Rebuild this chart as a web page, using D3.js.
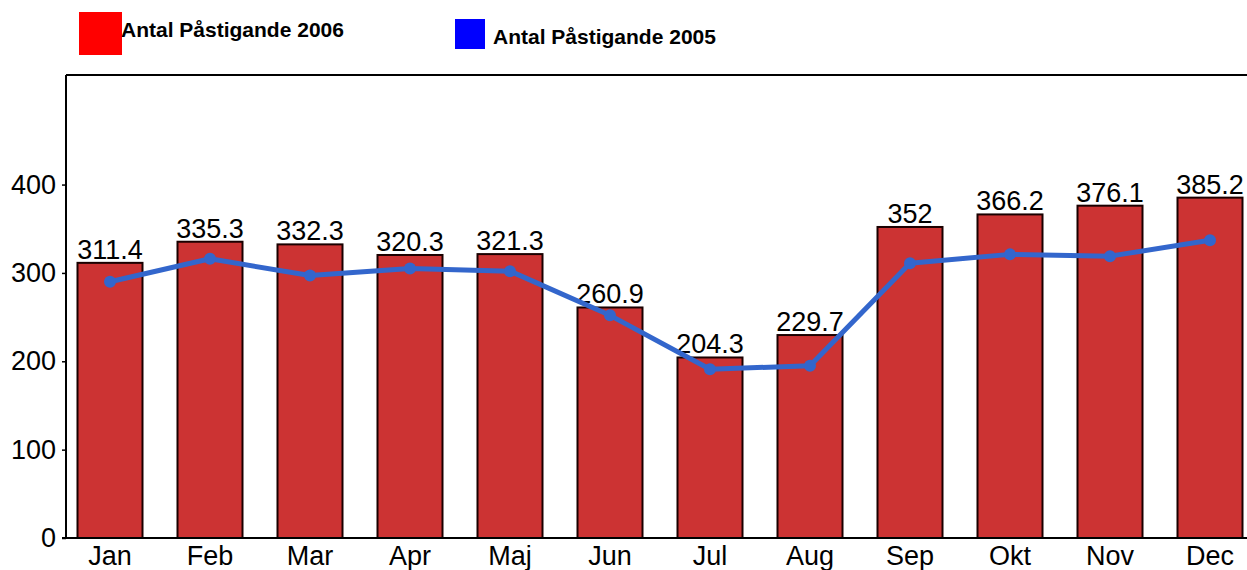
<!DOCTYPE html>
<html>
<head>
<meta charset="utf-8">
<script src="https://cdn.jsdelivr.net/npm/d3@7"></script>
<style>
  body { margin: 0; background: #fff; }
  svg { display: block; font-family: "Liberation Sans", Arial, sans-serif; }
</style>
</head>
<body>
<svg id="chart" width="1247" height="570"></svg>
<script>
// data
let months = ["Jan", "Feb", "Mar", "Apr", "Maj", "Jun", "Jul", "Aug", "Sep", "Okt", "Nov", "Dec"];
let values2006 = [311.4, 335.3, 332.3, 320.3, 321.3, 260.9, 204.3, 229.7, 352, 366.2, 376.1, 385.2];
let values2005 = [290, 316, 297, 305, 302, 252, 191, 195, 311, 321, 319, 337];
let yTicks = [0, 100, 200, 300, 400];

let svg = d3.select("#chart");
let fontSize = 27;

// scales
let xScale = d3.scaleBand()
  .domain(months)
  .range([60, 1260])
  .paddingInner(0.35)
  .paddingOuter(0.175);
let yScale = d3.scaleLinear()
  .domain([0, 524])
  .range([538, 75]);

// frame: top line
svg.append("line")
  .attr("x1", 66).attr("x2", 1247)
  .attr("y1", yScale(524)).attr("y2", yScale(524))
  .attr("stroke", "#000").attr("stroke-width", 2);

// bars
svg.append("g").selectAll("rect")
  .data(values2006)
  .join("rect")
  .attr("x", (d, i) => xScale(months[i]))
  .attr("y", d => yScale(d))
  .attr("width", xScale.bandwidth())
  .attr("height", d => yScale(0) - yScale(d))
  .attr("fill", "#cc3333")
  .attr("stroke", "#1a0000")
  .attr("stroke-width", 2);

// bar value labels
svg.append("g").selectAll("text")
  .data(values2006)
  .join("text")
  .attr("x", (d, i) => xScale(months[i]) + xScale.bandwidth() / 2)
  .attr("y", d => yScale(d) - 4)
  .attr("text-anchor", "middle")
  .attr("font-size", fontSize)
  .attr("fill", "#000")
  .text(d => d);

// y axis
let yAxis = d3.axisLeft(yScale).tickValues(yTicks).tickSize(4).tickPadding(6);
let gy = svg.append("g").attr("transform", "translate(66,0)").call(yAxis);
gy.select(".domain").remove();
gy.selectAll("line").attr("stroke", "#000").attr("stroke-width", 1.5);
gy.selectAll("text").attr("font-size", fontSize).attr("fill", "#000")
  .attr("font-family", "Liberation Sans, Arial, sans-serif");
svg.append("line")
  .attr("x1", 66).attr("x2", 66)
  .attr("y1", yScale(524)).attr("y2", yScale(0))
  .attr("stroke", "#000").attr("stroke-width", 2);

// x axis
let xAxis = d3.axisBottom(xScale).tickSize(0).tickPadding(8);
let gx = svg.append("g").attr("transform", "translate(0," + yScale(0) + ")").call(xAxis);
gx.select(".domain").remove();
gx.selectAll("text").attr("font-size", fontSize).attr("fill", "#000")
  .attr("font-family", "Liberation Sans, Arial, sans-serif");
svg.append("line")
  .attr("x1", 62).attr("x2", 1247)
  .attr("y1", yScale(0)).attr("y2", yScale(0))
  .attr("stroke", "#000").attr("stroke-width", 2);

// line 2005
let lineGen = d3.line()
  .x((d, i) => xScale(months[i]) + xScale.bandwidth() / 2)
  .y(d => yScale(d));
svg.append("path")
  .datum(values2005)
  .attr("d", lineGen)
  .attr("fill", "none")
  .attr("stroke", "#3366cc")
  .attr("stroke-width", 5)
  .attr("stroke-linejoin", "round");
svg.append("g").selectAll("circle")
  .data(values2005)
  .join("circle")
  .attr("cx", (d, i) => xScale(months[i]) + xScale.bandwidth() / 2)
  .attr("cy", d => yScale(d))
  .attr("r", 6)
  .attr("fill", "#3366cc");

// legend
let legend = svg.append("g").attr("font-weight", "bold").attr("font-size", 21);
legend.append("rect").attr("x", 79).attr("y", 12).attr("width", 43).attr("height", 43).attr("fill", "#ff0000");
legend.append("text").attr("x", 121).attr("y", 37).text("Antal Påstigande 2006");
legend.append("rect").attr("x", 455).attr("y", 19).attr("width", 30).attr("height", 30).attr("fill", "#0000ff");
legend.append("text").attr("x", 493).attr("y", 44).text("Antal Påstigande 2005");
</script>
</body>
</html>
